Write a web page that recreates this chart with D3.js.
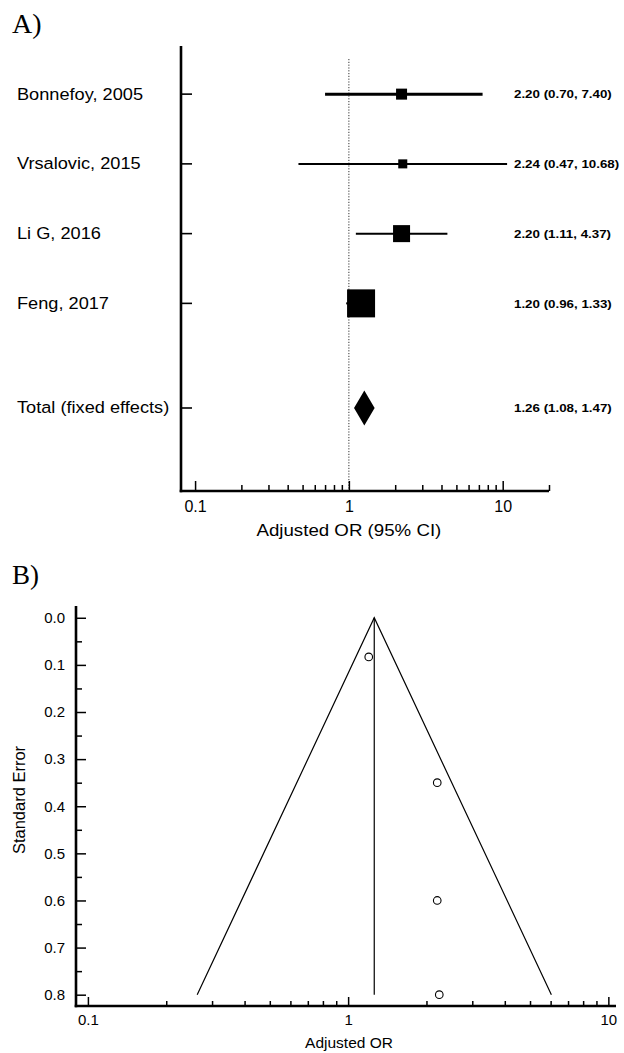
<!DOCTYPE html>
<html>
<head>
<meta charset="utf-8">
<script src="https://cdn.jsdelivr.net/npm/d3@7"></script>
<style>
html,body{margin:0;padding:0;background:#fff;}
svg{display:block;}
text{font-family:"Liberation Sans",Arial,sans-serif;fill:#000;}
</style>
</head>
<body>
<script>
// ---------- Data ----------
const studies = ["Bonnefoy, 2005", "Vrsalovic, 2015", "Li G, 2016", "Feng, 2017"];
const oddsRatio = [2.20, 2.24, 2.20, 1.20];
const ciLow = [0.70, 0.47, 1.11, 0.96];
const ciHigh = [7.40, 10.68, 4.37, 1.33];
const weights = [9.5, 6.4, 22.7, 61.5];          // relative marker size
const pooledLabel = "Total (fixed effects)";
const pooledOR = 1.26, pooledLow = 1.08, pooledHigh = 1.47;
const standardError = [0.60, 0.80, 0.35, 0.083];  // funnel plot y values
const funnelLimits = [0.263, 6.04];               // funnel bottom at SE 0.8
const funnelMaxSE = 0.8;
const majorTicksOR = [0.1, 1, 10];
const minorTicksA = [0.2,0.3,0.4,0.5,0.6,0.7,0.8,0.9,2,3,4,5,6,7,8,9,20];
const minorTicksB = [0.2,0.3,0.4,0.5,0.6,0.7,0.8,0.9,2,3,4,5,6,7,8,9];
const seMajorTicks = [0.0,0.1,0.2,0.3,0.4,0.5,0.6,0.7,0.8];
const seMinorTicks = [0.05,0.15,0.25,0.35,0.45,0.55,0.65,0.75];

const W = 624, H = 1053;
const svg = d3.select("body").append("svg").attr("width", W).attr("height", H);
const fmt = d3.format(".2f");

function stretchedText(g, x, y, str, opts) {
  const t = g.append("text")
    .attr("transform", `translate(${x},${y}) scale(${opts.sx || 1},1)`)
    .attr("font-size", opts.size)
    .attr("text-anchor", opts.anchor || "start")
    .text(str);
  if (opts.weight) t.attr("font-weight", opts.weight);
  if (opts.dy) t.attr("dy", opts.dy);
  if (opts.family) t.style("font-family", opts.family);
  return t;
}

// ---------- Panel A: forest plot ----------
const A = svg.append("g");
stretchedText(A, 12, 33, "A)", {size: 28, family: "'Liberation Serif','DejaVu Serif',serif"});

const xA = d3.scaleLog().domain([0.081, 20]).range([181, 549]);
const yA = d3.scaleLinear().domain([-0.69, 5.69]).range([46, 491]);
const rowIdx = studies.map((d, i) => i);
const pooledIdx = 4.5;
const side = d3.scaleSqrt().domain([0, d3.max(weights)]).range([0, 28]);

// dotted null line
A.append("line")
  .attr("x1", xA(1)).attr("x2", xA(1))
  .attr("y1", 59).attr("y2", yA.range()[1])
  .attr("stroke", "#333").attr("stroke-width", 1)
  .attr("stroke-dasharray", "1.2,1.6");

// row ticks on y axis
A.selectAll("line.rt").data(rowIdx.concat([pooledIdx])).enter().append("line")
  .attr("x1", xA.range()[0]).attr("x2", xA.range()[0] + 11)
  .attr("y1", d => yA(d)).attr("y2", d => yA(d))
  .attr("stroke", "#000").attr("stroke-width", 1.6);

// axes lines
A.append("line").attr("x1", xA.range()[0]).attr("x2", xA.range()[0])
  .attr("y1", yA.range()[0]).attr("y2", yA.range()[1] + 1.2)
  .attr("stroke", "#000").attr("stroke-width", 2.6);
A.append("line").attr("x1", xA.range()[0] - 1.3).attr("x2", xA.range()[1])
  .attr("y1", yA.range()[1]).attr("y2", yA.range()[1])
  .attr("stroke", "#000").attr("stroke-width", 2.6);

// x axis ticks
const axA1 = A.append("g").attr("transform", `translate(0,${yA.range()[1]})`)
  .call(d3.axisBottom(xA).tickValues(majorTicksOR).tickSize(-10).tickPadding(10)
        .tickFormat(d => String(d)));
const axA2 = A.append("g").attr("transform", `translate(0,${yA.range()[1]})`)
  .call(d3.axisBottom(xA).tickValues(minorTicksA).tickSize(-6).tickFormat(""));
[axA1, axA2].forEach(g => {
  g.select(".domain").remove();
  g.selectAll(".tick line").attr("stroke", "#000").attr("stroke-width", 1.5);
});
axA1.selectAll(".tick text").attr("font-size", 16).attr("fill", "#000")
  .style("font-family", "'Liberation Sans',Arial,sans-serif");

stretchedText(A, xA(1), 536, "Adjusted OR (95% CI)", {size: 17, sx: 1.1, anchor: "middle"});

// CI lines
A.selectAll("line.ci").data(rowIdx).enter().append("line")
  .attr("x1", i => xA(ciLow[i])).attr("x2", i => xA(ciHigh[i]))
  .attr("y1", i => yA(i)).attr("y2", i => yA(i))
  .attr("stroke", "#000").attr("stroke-width", i => i === 0 ? 3 : 2);

// squares
A.selectAll("rect.sq").data(rowIdx).enter().append("rect")
  .attr("x", i => xA(oddsRatio[i]) - side(weights[i]) / 2)
  .attr("y", i => yA(i) - side(weights[i]) / 2)
  .attr("width", i => side(weights[i]))
  .attr("height", i => side(weights[i]))
  .attr("fill", "#000");

// diamond
const yP = yA(pooledIdx);
A.append("path")
  .attr("d", `M${xA(pooledLow)},${yP} L${xA(pooledOR)},${yP - 17.5} L${xA(pooledHigh)},${yP} L${xA(pooledOR)},${yP + 17.5} Z`)
  .attr("fill", "#000");

// labels
rowIdx.forEach(i => {
  stretchedText(A, 17, yA(i), studies[i], {size: 17, sx: 1.07, dy: "0.32em"});
  stretchedText(A, 514, yA(i), `${fmt(oddsRatio[i])} (${fmt(ciLow[i])}, ${fmt(ciHigh[i])})`,
    {size: 11.5, sx: 1.16, weight: "bold", dy: "0.37em"});
});
stretchedText(A, 17, yP, pooledLabel, {size: 17, sx: 1.07, dy: "0.32em"});
stretchedText(A, 514, yP, `${fmt(pooledOR)} (${fmt(pooledLow)}, ${fmt(pooledHigh)})`,
  {size: 11.5, sx: 1.16, weight: "bold", dy: "0.37em"});

// ---------- Panel B: funnel plot ----------
const B = svg.append("g");
stretchedText(B, 12, 584, "B)", {size: 27, family: "'Liberation Serif','DejaVu Serif',serif"});

const xB = d3.scaleLog().domain([0.09, 10.7]).range([76, 616]);
const yB = d3.scaleLinear().domain([-0.025, 0.824]).range([606, 1006]);

// axes lines
B.append("line").attr("x1", xB.range()[0]).attr("x2", xB.range()[0])
  .attr("y1", yB.range()[0]).attr("y2", yB.range()[1] + 1.2)
  .attr("stroke", "#000").attr("stroke-width", 2.6);
B.append("line").attr("x1", xB.range()[0] - 1.3).attr("x2", xB.range()[1])
  .attr("y1", yB.range()[1]).attr("y2", yB.range()[1])
  .attr("stroke", "#000").attr("stroke-width", 2.6);

// y axis
const ayB1 = B.append("g").attr("transform", `translate(${xB.range()[0]},0)`)
  .call(d3.axisLeft(yB).tickValues(seMajorTicks).tickSize(-10).tickPadding(11)
        .tickFormat(d3.format(".1f")));
const ayB2 = B.append("g").attr("transform", `translate(${xB.range()[0]},0)`)
  .call(d3.axisLeft(yB).tickValues(seMinorTicks).tickSize(-6).tickFormat(""));
// x axis
const axB1 = B.append("g").attr("transform", `translate(0,${yB.range()[1]})`)
  .call(d3.axisBottom(xB).tickValues(majorTicksOR).tickSize(-9).tickPadding(8)
        .tickFormat(d => String(d)));
const axB2 = B.append("g").attr("transform", `translate(0,${yB.range()[1]})`)
  .call(d3.axisBottom(xB).tickValues(minorTicksB).tickSize(-5).tickFormat(""));
[ayB1, ayB2, axB1, axB2].forEach(g => {
  g.select(".domain").remove();
  g.selectAll(".tick line").attr("stroke", "#000").attr("stroke-width", 1.5);
  g.selectAll(".tick text").attr("font-size", 15).attr("fill", "#000")
    .style("font-family", "'Liberation Sans',Arial,sans-serif");
});

// funnel
B.append("path")
  .attr("d", d3.line()([
    [xB(funnelLimits[0]), yB(funnelMaxSE)],
    [xB(pooledOR), yB(0)],
    [xB(funnelLimits[1]), yB(funnelMaxSE)]
  ]))
  .attr("fill", "none").attr("stroke", "#000").attr("stroke-width", 1.2);
B.append("line")
  .attr("x1", xB(pooledOR)).attr("x2", xB(pooledOR))
  .attr("y1", yB(0)).attr("y2", yB(funnelMaxSE))
  .attr("stroke", "#000").attr("stroke-width", 1.2);

// points
B.selectAll("circle.pt").data(rowIdx).enter().append("circle")
  .attr("cx", i => xB(oddsRatio[i]))
  .attr("cy", i => yB(standardError[i]))
  .attr("r", 3.8)
  .attr("fill", "#fff").attr("stroke", "#000").attr("stroke-width", 1.1);

// axis titles
stretchedText(B, 349, 1048, "Adjusted OR", {size: 15.5, anchor: "middle"});
B.append("text")
  .attr("transform", `translate(25,800) rotate(-90)`)
  .attr("text-anchor", "middle")
  .attr("font-size", 16.5)
  .text("Standard Error");
</script>
</body>
</html>
